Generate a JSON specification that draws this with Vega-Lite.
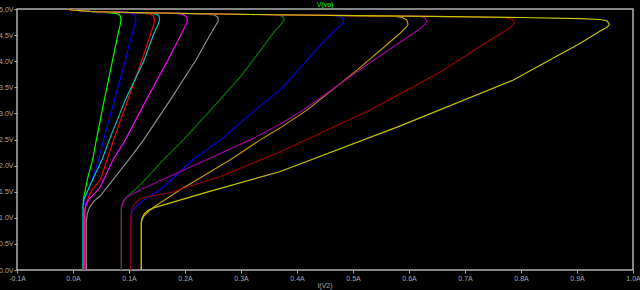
{
  "$schema": "https://vega.github.io/schema/vega-lite/v6.json",
  "width": 616,
  "height": 261,
  "autosize": {"type": "none"},
  "padding": {"left": 17, "top": 9, "right": 7, "bottom": 20},
  "background": "#000000",
  "config": {
    "view": {"stroke": "#b0b0b0", "strokeWidth": 1.5},
    "axis": {"grid": false, "domain": false, "ticks": true, "tickColor": "#b0b0b0", "tickSize": 3, "labelColor": "#a8a8a8", "labelFont": "Liberation Sans", "labelFontSize": 7, "titleFont": "Liberation Sans", "titleFontSize": 7, "titleFontWeight": "normal"}
  },
  "datasets": {
    "pts": [
      {"s":"g","o":1,"i":0.0184,"v":0},{"s":"g","o":2,"i":0.0184,"v":1.06},{"s":"g","o":3,"i":0.0184,"v":1.345},{"s":"g","o":4,"i":0.0202,"v":1.44},{"s":"g","o":5,"i":0.0255,"v":1.73},{"s":"g","o":6,"i":0.035,"v":2.11},{"s":"g","o":7,"i":0.0416,"v":2.49},{"s":"g","o":8,"i":0.0559,"v":3.26},{"s":"g","o":9,"i":0.0707,"v":4.02},{"s":"g","o":10,"i":0.08,"v":4.5},{"s":"g","o":11,"i":0.0845,"v":4.71},{"s":"g","o":12,"i":0.0857,"v":4.81},{"s":"g","o":13,"i":0.0841,"v":4.876},{"s":"g","o":14,"i":0.0791,"v":4.908},{"s":"g","o":15,"i":0.0666,"v":4.927},{"s":"g","o":16,"i":0.0309,"v":4.952},{"s":"g","o":17,"i":-0.0013,"v":4.981},{"s":"g","o":18,"i":-0.0102,"v":5.0},

      {"s":"b","o":1,"i":0.0193,"v":0},{"s":"b","o":2,"i":0.0193,"v":1.0},{"s":"b","o":3,"i":0.0193,"v":1.23},{"s":"b","o":4,"i":0.0211,"v":1.345},{"s":"b","o":5,"i":0.0255,"v":1.5},{"s":"b","o":6,"i":0.0309,"v":1.63},{"s":"b","o":7,"i":0.0457,"v":2.11},{"s":"b","o":8,"i":0.0546,"v":2.49},{"s":"b","o":9,"i":0.0934,"v":4.02},{"s":"b","o":10,"i":0.105,"v":4.5},{"s":"b","o":11,"i":0.1104,"v":4.71},{"s":"b","o":12,"i":0.1125,"v":4.81},{"s":"b","o":13,"i":0.1109,"v":4.876},{"s":"b","o":14,"i":0.1059,"v":4.908},{"s":"b","o":15,"i":0.0934,"v":4.93},{"s":"b","o":16,"i":0.0309,"v":4.952},{"s":"b","o":17,"i":-0.0013,"v":4.981},{"s":"b","o":18,"i":-0.0102,"v":5.0},

      {"s":"r","o":1,"i":0.0205,"v":0},{"s":"r","o":2,"i":0.0205,"v":1.0},{"s":"r","o":3,"i":0.0205,"v":1.116},{"s":"r","o":4,"i":0.0229,"v":1.25},{"s":"r","o":5,"i":0.0273,"v":1.383},{"s":"r","o":6,"i":0.0345,"v":1.537},{"s":"r","o":7,"i":0.0488,"v":1.728},{"s":"r","o":8,"i":0.0607,"v":2.111},{"s":"r","o":9,"i":0.0725,"v":2.493},{"s":"r","o":10,"i":0.1232,"v":4.024},{"s":"r","o":11,"i":0.138,"v":4.503},{"s":"r","o":12,"i":0.1443,"v":4.713},{"s":"r","o":13,"i":0.1457,"v":4.79},{"s":"r","o":14,"i":0.1439,"v":4.866},{"s":"r","o":15,"i":0.138,"v":4.905},{"s":"r","o":16,"i":0.1202,"v":4.92},{"s":"r","o":17,"i":0.0309,"v":4.952},{"s":"r","o":18,"i":-0.0013,"v":4.981},{"s":"r","o":19,"i":-0.0102,"v":5.0},

      {"s":"c","o":1,"i":0.0179,"v":0},{"s":"c","o":2,"i":0.0179,"v":1.0},{"s":"c","o":3,"i":0.0179,"v":1.23},{"s":"c","o":4,"i":0.0193,"v":1.345},{"s":"c","o":5,"i":0.0229,"v":1.441},{"s":"c","o":6,"i":0.0309,"v":1.632},{"s":"c","o":7,"i":0.0416,"v":1.882},{"s":"c","o":8,"i":0.0518,"v":2.111},{"s":"c","o":9,"i":0.0648,"v":2.493},{"s":"c","o":10,"i":0.0934,"v":3.259},{"s":"c","o":11,"i":0.1273,"v":4.024},{"s":"c","o":12,"i":0.1434,"v":4.503},{"s":"c","o":13,"i":0.1523,"v":4.713},{"s":"c","o":14,"i":0.1546,"v":4.809},{"s":"c","o":15,"i":0.1532,"v":4.876},{"s":"c","o":16,"i":0.147,"v":4.908},{"s":"c","o":17,"i":0.1291,"v":4.92},{"s":"c","o":18,"i":0.1023,"v":4.933},{"s":"c","o":19,"i":0.0309,"v":4.952},{"s":"c","o":20,"i":-0.0013,"v":4.981},{"s":"c","o":21,"i":-0.0102,"v":5.0},

      {"s":"m","o":1,"i":0.0214,"v":0},{"s":"m","o":2,"i":0.0214,"v":1.0},{"s":"m","o":3,"i":0.0214,"v":1.154},{"s":"m","o":4,"i":0.0238,"v":1.269},{"s":"m","o":5,"i":0.0291,"v":1.364},{"s":"m","o":6,"i":0.0398,"v":1.479},{"s":"m","o":7,"i":0.0488,"v":1.594},{"s":"m","o":8,"i":0.0714,"v":2.111},{"s":"m","o":9,"i":0.0934,"v":2.493},{"s":"m","o":10,"i":0.1309,"v":3.259},{"s":"m","o":11,"i":0.1696,"v":4.024},{"s":"m","o":12,"i":0.188,"v":4.407},{"s":"m","o":13,"i":0.1988,"v":4.637},{"s":"m","o":14,"i":0.2041,"v":4.752},{"s":"m","o":15,"i":0.2032,"v":4.847},{"s":"m","o":16,"i":0.197,"v":4.895},{"s":"m","o":17,"i":0.1827,"v":4.914},{"s":"m","o":18,"i":0.1559,"v":4.923},{"s":"m","o":19,"i":0.1023,"v":4.933},{"s":"m","o":20,"i":0.0309,"v":4.952},{"s":"m","o":21,"i":-0.0013,"v":4.981},{"s":"m","o":22,"i":-0.0102,"v":5.0},

      {"s":"gy","o":1,"i":0.0238,"v":0},{"s":"gy","o":2,"i":0.0238,"v":0.924},{"s":"gy","o":3,"i":0.0255,"v":1.077},{"s":"gy","o":4,"i":0.03,"v":1.211},{"s":"gy","o":5,"i":0.038,"v":1.326},{"s":"gy","o":6,"i":0.0488,"v":1.422},{"s":"gy","o":7,"i":0.0993,"v":2.111},{"s":"gy","o":8,"i":0.1261,"v":2.493},{"s":"gy","o":9,"i":0.1738,"v":3.259},{"s":"gy","o":10,"i":0.2196,"v":4.024},{"s":"gy","o":11,"i":0.2416,"v":4.445},{"s":"gy","o":12,"i":0.2541,"v":4.675},{"s":"gy","o":13,"i":0.2595,"v":4.771},{"s":"gy","o":14,"i":0.2586,"v":4.847},{"s":"gy","o":15,"i":0.2523,"v":4.885},{"s":"gy","o":16,"i":0.2363,"v":4.9},{"s":"gy","o":17,"i":0.1559,"v":4.923},{"s":"gy","o":18,"i":0.1023,"v":4.933},{"s":"gy","o":19,"i":0.0309,"v":4.952},{"s":"gy","o":20,"i":-0.0013,"v":4.981},{"s":"gy","o":21,"i":-0.0102,"v":5.0},

      {"s":"dg","o":1,"i":0.0863,"v":0},{"s":"dg","o":2,"i":0.0863,"v":1.0},{"s":"dg","o":3,"i":0.0863,"v":1.211},{"s":"dg","o":4,"i":0.0898,"v":1.326},{"s":"dg","o":5,"i":0.097,"v":1.412},{"s":"dg","o":6,"i":0.1202,"v":1.632},{"s":"dg","o":7,"i":0.1612,"v":2.111},{"s":"dg","o":8,"i":0.197,"v":2.493},{"s":"dg","o":9,"i":0.2541,"v":3.163},{"s":"dg","o":10,"i":0.2988,"v":3.699},{"s":"dg","o":11,"i":0.322,"v":4.024},{"s":"dg","o":12,"i":0.3577,"v":4.541},{"s":"dg","o":13,"i":0.372,"v":4.713},{"s":"dg","o":14,"i":0.3773,"v":4.78},{"s":"dg","o":15,"i":0.3755,"v":4.847},{"s":"dg","o":16,"i":0.3684,"v":4.879},{"s":"dg","o":17,"i":0.3523,"v":4.895},{"s":"dg","o":18,"i":0.3166,"v":4.9},{"s":"dg","o":19,"i":0.1559,"v":4.923},{"s":"dg","o":20,"i":0.1023,"v":4.933},{"s":"dg","o":21,"i":0.0309,"v":4.952},{"s":"dg","o":22,"i":-0.0013,"v":4.981},{"s":"dg","o":23,"i":-0.0102,"v":5.0},

      {"s":"b2","o":1,"i":0.1032,"v":0},{"s":"b2","o":2,"i":0.1032,"v":1.039},{"s":"b2","o":3,"i":0.1059,"v":1.135},{"s":"b2","o":4,"i":0.113,"v":1.221},{"s":"b2","o":5,"i":0.1291,"v":1.364},{"s":"b2","o":6,"i":0.1559,"v":1.537},{"s":"b2","o":7,"i":0.1738,"v":1.709},{"s":"b2","o":8,"i":0.2138,"v":2.111},{"s":"b2","o":9,"i":0.2638,"v":2.493},{"s":"b2","o":10,"i":0.3255,"v":3.067},{"s":"b2","o":11,"i":0.3702,"v":3.45},{"s":"b2","o":12,"i":0.4184,"v":4.024},{"s":"b2","o":13,"i":0.4505,"v":4.407},{"s":"b2","o":14,"i":0.472,"v":4.637},{"s":"b2","o":15,"i":0.4809,"v":4.713},{"s":"b2","o":16,"i":0.4832,"v":4.761},{"s":"b2","o":17,"i":0.4814,"v":4.828},{"s":"b2","o":18,"i":0.4738,"v":4.866},{"s":"b2","o":19,"i":0.4595,"v":4.879},{"s":"b2","o":20,"i":0.3166,"v":4.895},{"s":"b2","o":21,"i":0.1559,"v":4.923},{"s":"b2","o":22,"i":0.1023,"v":4.933},{"s":"b2","o":23,"i":0.0309,"v":4.952},{"s":"b2","o":24,"i":-0.0013,"v":4.981},{"s":"b2","o":25,"i":-0.0102,"v":5.0},

      {"s":"o","o":1,"i":0.122,"v":0},{"s":"o","o":2,"i":0.122,"v":0.924},{"s":"o","o":3,"i":0.1261,"v":1.029},{"s":"o","o":4,"i":0.138,"v":1.154},{"s":"o","o":5,"i":0.1559,"v":1.288},{"s":"o","o":6,"i":0.1916,"v":1.537},{"s":"o","o":7,"i":0.2809,"v":2.111},{"s":"o","o":8,"i":0.3345,"v":2.493},{"s":"o","o":9,"i":0.3702,"v":2.723},{"s":"o","o":10,"i":0.4184,"v":3.067},{"s":"o","o":11,"i":0.5077,"v":3.833},{"s":"o","o":12,"i":0.5577,"v":4.292},{"s":"o","o":13,"i":0.5845,"v":4.541},{"s":"o","o":14,"i":0.5952,"v":4.656},{"s":"o","o":15,"i":0.5982,"v":4.703},{"s":"o","o":16,"i":0.5961,"v":4.79},{"s":"o","o":17,"i":0.588,"v":4.837},{"s":"o","o":18,"i":0.5755,"v":4.856},{"s":"o","o":19,"i":0.4595,"v":4.875},{"s":"o","o":20,"i":0.3166,"v":4.895},{"s":"o","o":21,"i":0.1559,"v":4.923},{"s":"o","o":22,"i":0.1023,"v":4.933},{"s":"o","o":23,"i":0.0309,"v":4.952},{"s":"o","o":24,"i":-0.0013,"v":4.981},{"s":"o","o":25,"i":-0.0102,"v":5.0},

      {"s":"p","o":1,"i":0.0863,"v":0},{"s":"p","o":2,"i":0.0863,"v":1.154},{"s":"p","o":3,"i":0.0889,"v":1.288},{"s":"p","o":4,"i":0.097,"v":1.403},{"s":"p","o":5,"i":0.1202,"v":1.537},{"s":"p","o":6,"i":0.2184,"v":2.015},{"s":"p","o":7,"i":0.3166,"v":2.493},{"s":"p","o":8,"i":0.3702,"v":2.799},{"s":"p","o":9,"i":0.4113,"v":3.067},{"s":"p","o":10,"i":0.5166,"v":3.871},{"s":"p","o":11,"i":0.5845,"v":4.369},{"s":"p","o":12,"i":0.6166,"v":4.599},{"s":"p","o":13,"i":0.6291,"v":4.713},{"s":"p","o":14,"i":0.6321,"v":4.761},{"s":"p","o":15,"i":0.6291,"v":4.828},{"s":"p","o":16,"i":0.6202,"v":4.856},{"s":"p","o":17,"i":0.6023,"v":4.866},{"s":"p","o":18,"i":0.4595,"v":4.879},{"s":"p","o":19,"i":0.3166,"v":4.895},{"s":"p","o":20,"i":0.1559,"v":4.923},{"s":"p","o":21,"i":0.1023,"v":4.933},{"s":"p","o":22,"i":0.0309,"v":4.952},{"s":"p","o":23,"i":-0.0013,"v":4.981},{"s":"p","o":24,"i":-0.0102,"v":5.0},

      {"s":"dr","o":1,"i":0.1032,"v":0},{"s":"dr","o":2,"i":0.1032,"v":1.001},{"s":"dr","o":3,"i":0.105,"v":1.154},{"s":"dr","o":4,"i":0.1095,"v":1.269},{"s":"dr","o":5,"i":0.1202,"v":1.364},{"s":"dr","o":6,"i":0.138,"v":1.412},{"s":"dr","o":7,"i":0.1738,"v":1.479},{"s":"dr","o":8,"i":0.263,"v":1.791},{"s":"dr","o":9,"i":0.3702,"v":2.264},{"s":"dr","o":10,"i":0.5309,"v":3.067},{"s":"dr","o":11,"i":0.6559,"v":3.794},{"s":"dr","o":12,"i":0.7452,"v":4.407},{"s":"dr","o":13,"i":0.7773,"v":4.617},{"s":"dr","o":14,"i":0.7863,"v":4.694},{"s":"dr","o":15,"i":0.788,"v":4.742},{"s":"dr","o":16,"i":0.7845,"v":4.799},{"s":"dr","o":17,"i":0.7738,"v":4.828},{"s":"dr","o":18,"i":0.7541,"v":4.841},{"s":"dr","o":19,"i":0.638,"v":4.86},{"s":"dr","o":20,"i":0.4595,"v":4.879},{"s":"dr","o":21,"i":0.3166,"v":4.895},{"s":"dr","o":22,"i":0.1559,"v":4.923},{"s":"dr","o":23,"i":0.1023,"v":4.933},{"s":"dr","o":24,"i":0.0309,"v":4.952},{"s":"dr","o":25,"i":-0.0013,"v":4.981},{"s":"dr","o":26,"i":-0.0102,"v":5.0},

      {"s":"y","o":1,"i":0.122,"v":0},{"s":"y","o":2,"i":0.122,"v":0.9},{"s":"y","o":3,"i":0.1232,"v":0.99},{"s":"y","o":4,"i":0.1275,"v":1.08},{"s":"y","o":5,"i":0.134,"v":1.14},{"s":"y","o":6,"i":0.1439,"v":1.19},{"s":"y","o":7,"i":0.2332,"v":1.473},{"s":"y","o":8,"i":0.3702,"v":1.887},{"s":"y","o":9,"i":0.5845,"v":2.761},{"s":"y","o":10,"i":0.7863,"v":3.641},{"s":"y","o":11,"i":0.9059,"v":4.344},{"s":"y","o":12,"i":0.9416,"v":4.579},{"s":"y","o":13,"i":0.9541,"v":4.656},{"s":"y","o":14,"i":0.9577,"v":4.703},{"s":"y","o":15,"i":0.9541,"v":4.77},{"s":"y","o":16,"i":0.9416,"v":4.799},{"s":"y","o":17,"i":0.9059,"v":4.815},{"s":"y","o":18,"i":0.7988,"v":4.837},{"s":"y","o":19,"i":0.638,"v":4.86},{"s":"y","o":20,"i":0.4595,"v":4.879},{"s":"y","o":21,"i":0.3166,"v":4.895},{"s":"y","o":22,"i":0.1559,"v":4.923},{"s":"y","o":23,"i":0.1023,"v":4.933},{"s":"y","o":24,"i":0.0309,"v":4.952},{"s":"y","o":25,"i":-0.0013,"v":4.981},{"s":"y","o":26,"i":-0.0102,"v":5.0}
    ]
  },
  "data": {"name": "pts"},
  "mark": {"type": "line", "strokeWidth": 1.15, "interpolate": "linear"},
  "encoding": {
    "x": {
      "field": "i", "type": "quantitative",
      "scale": {"domain": [-0.1, 1.0], "nice": false, "zero": false},
      "axis": {"values": [-0.1, 0, 0.1, 0.2, 0.3, 0.4, 0.5, 0.6, 0.7, 0.8, 0.9, 1.0], "labelExpr": "(datum.value < 0 ? '-' : '') + format(abs(datum.value), '.1f') + 'A'", "labelPadding": 1, "labelFlush": false, "labelOverlap": false, "title": "I(V2)", "titleColor": "#a8a8a8", "titleX": 307.5, "titleY": 17.5, "titleAlign": "center", "titleBaseline": "alphabetic"}
    },
    "y": {
      "field": "v", "type": "quantitative",
      "scale": {"domain": [0, 5], "nice": false, "zero": false},
      "axis": {"values": [0, 0.5, 1, 1.5, 2, 2.5, 3, 3.5, 4, 4.5, 5], "labelExpr": "format(datum.value, '.1f') + 'V'", "labelPadding": 1, "labelFlush": false, "labelOverlap": false, "title": "V(vo)", "titleColor": "#00ff00", "titleAngle": 0, "titleX": 307.5, "titleY": -2.5, "titleAlign": "center", "titleBaseline": "alphabetic"}
    },
    "color": {
      "field": "s", "type": "nominal",
      "scale": {
        "domain": ["g", "b", "r", "c", "m", "gy", "dg", "b2", "o", "p", "dr", "y"],
        "range": ["#00ff00", "#0000ff", "#ff0000", "#00c8c8", "#ff00ff", "#909090", "#008000", "#0000e6", "#c89b00", "#a000a0", "#a00000", "#c8c800"]
      },
      "legend": null
    },
    "order": {"field": "o", "type": "quantitative"}
  }
}
